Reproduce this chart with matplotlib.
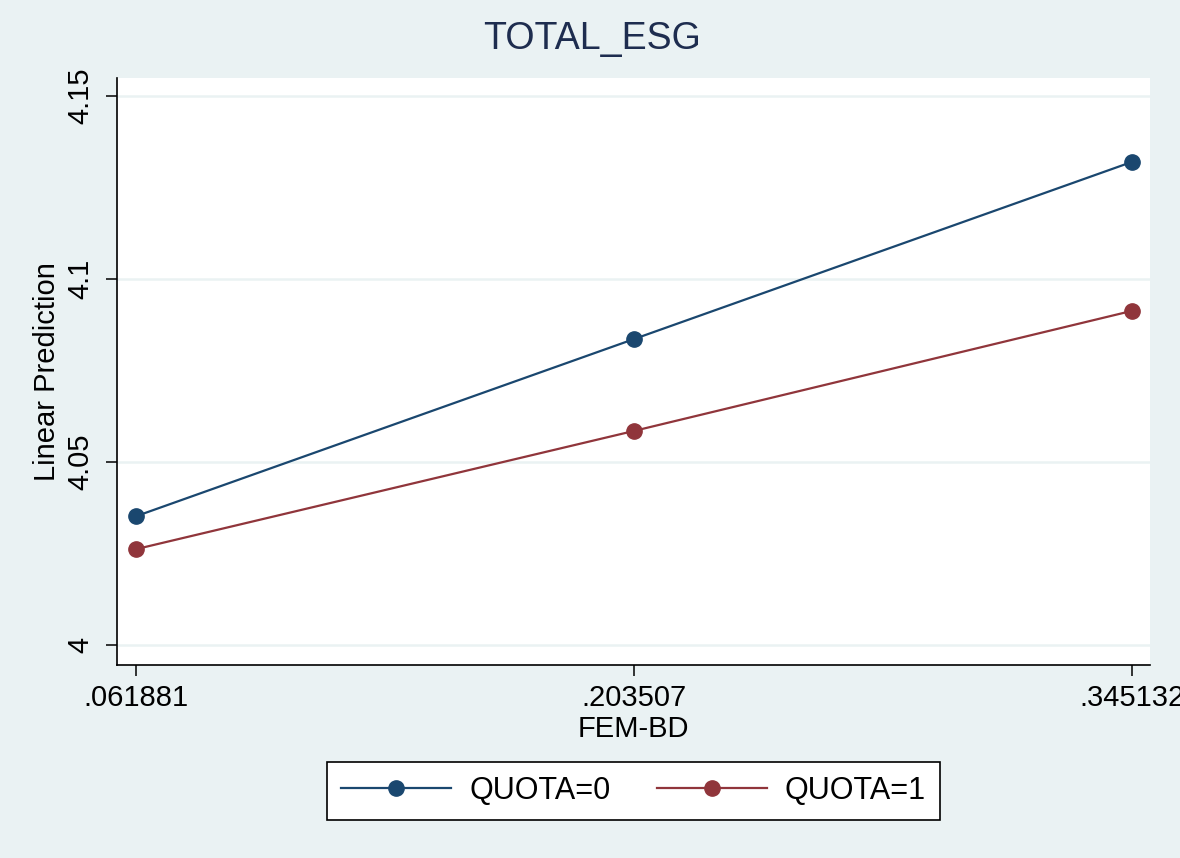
import matplotlib.pyplot as plt

plt.rcParams['font.family'] = ['Liberation Sans', 'DejaVu Sans']

# data
fem_bd = [0.061881, 0.203507, 0.345132]
fem_bd_labels = ['.061881', '.203507', '.345132']
quota0 = [4.0352, 4.0836, 4.1320]
quota1 = [4.0262, 4.0585, 4.0913]
y_ticks = [4, 4.05, 4.1, 4.15]
y_labels = ['4', '4.05', '4.1', '4.15']

BG = '#eaf2f3'
BLUE = '#1a476f'
RED = '#90353b'

fig = plt.figure(figsize=(11.8, 8.58), dpi=100, facecolor=BG)
ax = fig.add_axes([0.0992, 0.2249, 0.8754, 0.6842])
ax.set_facecolor('white')

ax.plot(fem_bd, quota0, color=BLUE, lw=1.6, marker='o', ms=11, label='QUOTA=0', zorder=3)
ax.plot(fem_bd, quota1, color=RED, lw=1.6, marker='o', ms=11, label='QUOTA=1', zorder=3)

ax.set_xlim(0.056478, 0.350251)
ax.set_ylim(3.99454, 4.15492)
ax.set_xticks(fem_bd)
ax.set_xticklabels(fem_bd_labels)
ax.set_yticks(y_ticks)
ax.set_yticklabels(y_labels, rotation=90, va='center')
ax.grid(axis='y', color=BG, lw=1.8)
ax.set_axisbelow(True)

for s in ['top', 'right']:
    ax.spines[s].set_visible(False)
for s in ['left', 'bottom']:
    ax.spines[s].set_linewidth(1.2)
ax.tick_params(direction='out', length=8, width=1.1, labelsize=21, pad=6)
ax.tick_params(axis='y', pad=8)

ax.set_xlabel('FEM-BD', fontsize=21, labelpad=2)
ax.set_ylabel('Linear Prediction', fontsize=21, labelpad=4)
fig.suptitle('TOTAL_ESG', fontsize=27, color='#1e2d4f', x=0.502, y=0.975)

leg = fig.legend(loc='center', bbox_to_anchor=(0.537, 0.078), ncol=2, fontsize=22,
                 frameon=True, fancybox=False, edgecolor='black', framealpha=1,
                 handlelength=3.6, columnspacing=1.5, handletextpad=0.6,
                 borderpad=0.45, borderaxespad=0)
leg.get_frame().set_linewidth(1.2)

plt.savefig('out.png', dpi=100, facecolor=BG)
